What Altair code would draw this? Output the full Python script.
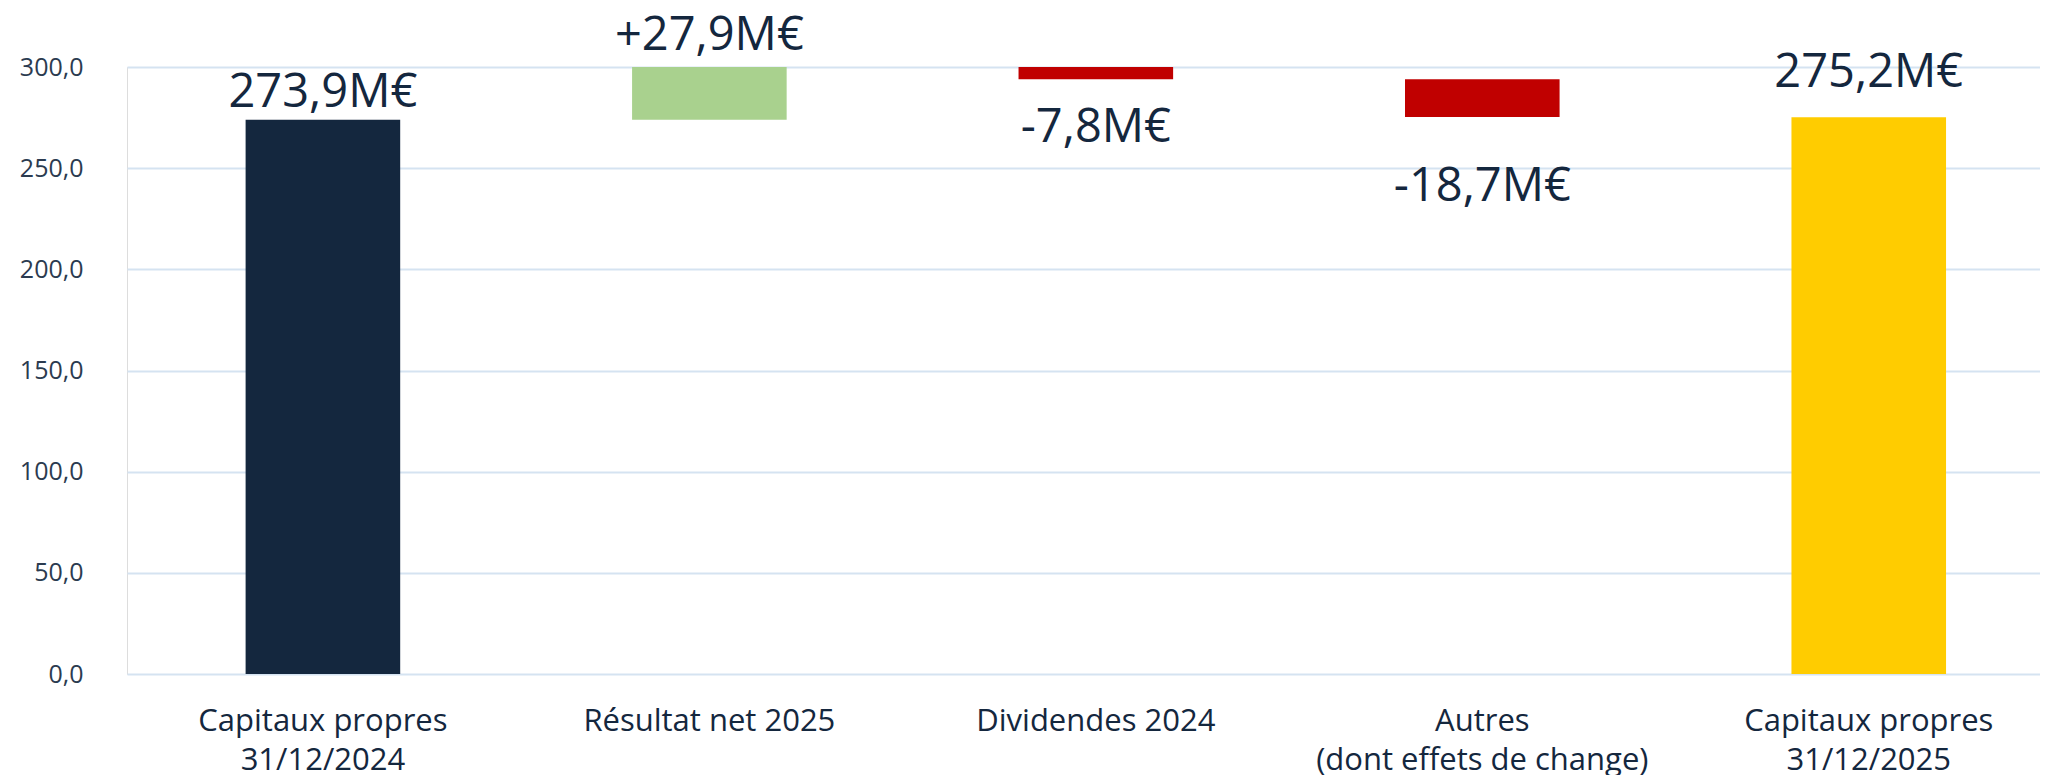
import altair as alt
import pandas as pd

categories = ["Capitaux propres|31/12/2024", "Résultat net 2025", "Dividendes 2024",
              "Autres|(dont effets de change)", "Capitaux propres|31/12/2025"]
amounts = [273.9, 27.9, -7.8, -18.7, 275.2]
kinds = ["total", "delta", "delta", "delta", "total"]
labels = ["273,9M€", "+27,9M€", "-7,8M€", "-18,7M€", "275,2M€"]
colors = ["#14273E", "#A9D18E", "#C00000", "#C00000", "#FFCC00"]

rows = []
running = 0.0
for c, a, k, l, col in zip(categories, amounts, kinds, labels, colors):
    if k == "total":
        start, end = 0.0, a
        running = a
    else:
        start, end = running, running + a
        running = end
    rows.append({"cat": c, "start": start, "end": end, "label": l, "color": col,
                 "top": max(start, end), "bottom": min(start, end)})
df = pd.DataFrame(rows)

FONT = "Open Sans"
TXT = "#14273E"

x_scale = alt.Scale(paddingInner=0.6, paddingOuter=0.275, align=0.558)
x_enc = alt.X("cat:N", sort=categories, scale=x_scale,
              axis=alt.Axis(title=None, labelAngle=0, labelExpr="split(datum.label, '|')",
                            labelFontSize=31, labelColor=TXT, labelFont=FONT,
                            labelPadding=32, labelLineHeight=39, ticks=False, domain=False,
                            labelFontWeight=400, labelLimit=0))
y_scale = alt.Scale(domain=[0, 300], nice=False)

bars = alt.Chart(df).mark_bar(clip=True).encode(
    x=x_enc,
    y=alt.Y("start:Q", scale=y_scale,
            axis=alt.Axis(title=None, values=[0, 50, 100, 150, 200, 250, 300],
                          labelExpr="replace(format(datum.value, '.1f'), '.', ',')",
                          labelFontSize=25, labelColor="#2B3B50", labelFont=FONT, labelFontWeight=400,
                          labelPadding=44, ticks=False, domain=False,
                          gridColor="#D5E3F1", gridWidth=2)),
    y2="end:Q",
    color=alt.Color("color:N", scale=None),
)

def txt(cat_list, field, dy, baseline):
    return alt.Chart(df).transform_filter(
        alt.FieldOneOfPredicate(field="cat", oneOf=cat_list)
    ).mark_text(font=FONT, fontSize=47, color=TXT, dy=dy, baseline=baseline, fontWeight=400).encode(
        x=alt.X("cat:N", sort=categories, scale=x_scale),
        y=alt.Y(f"{field}:Q", scale=y_scale),
        text="label:N",
    )

t1 = txt([categories[0], categories[1]], "top", -3, "bottom")
t2 = txt([categories[4]], "top", -20, "bottom")
t3 = txt([categories[2]], "bottom", 26, "top")
t4 = txt([categories[3]], "bottom", 47, "top")

chart = alt.layer(bars, t1, t2, t3, t4).properties(
    width=1913, height=607, padding={"left": 11, "top": 4, "right": 0, "bottom": 0}
).configure_view(stroke=None).configure(background="white")

chart.save("out.html", embed_options={"renderer": "svg", "actions": False})
